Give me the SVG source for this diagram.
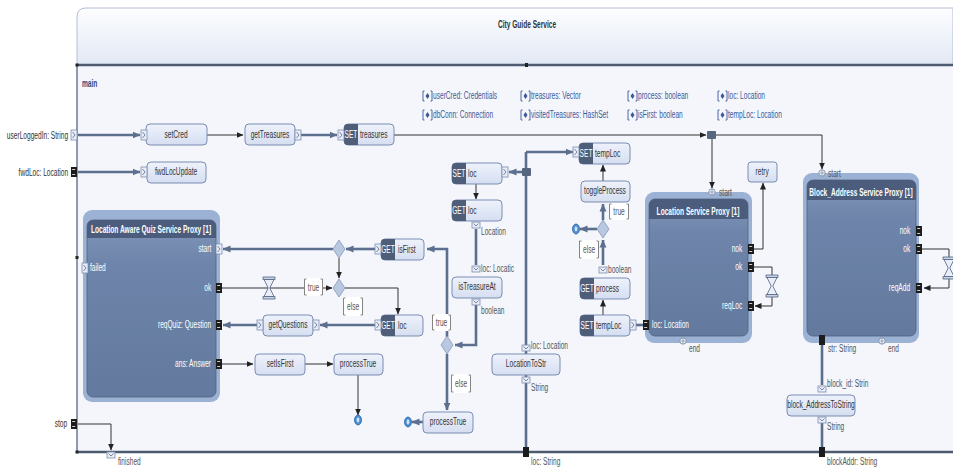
<svg xmlns="http://www.w3.org/2000/svg" width="953" height="469" viewBox="0 0 953 469">
<style>
.t{font-family:"Liberation Sans",Arial,sans-serif;font-size:10px;fill:#333;transform-box:fill-box;transform:scaleX(.66);transform-origin:left center}
.m{text-anchor:middle;transform-origin:center}
.e{text-anchor:end;transform-origin:right center}
.b{font-weight:bold}
.w{fill:#fff}
.g{fill:#555}
.v{fill:#3b5a9a}
.op{fill:url(#gOp);stroke:#7b8db3;stroke-width:1}
.vk{fill:#4e5d78}
.dl{fill:none;stroke:#5d6f8e;stroke-width:2.6}
.cl{fill:none;stroke:#333;stroke-width:1}
.gd{fill:#fff;stroke:none}
.br{fill:none;stroke:#777;stroke-width:.9}
</style>
<defs>
<linearGradient id="gHead" x1="0" y1="0" x2="0" y2="1"><stop offset="0" stop-color="#fcfdff"/><stop offset="1" stop-color="#e2e8f4"/></linearGradient>
<linearGradient id="gOp" x1="0" y1="0" x2="0" y2="1"><stop offset="0" stop-color="#eef2fb"/><stop offset="1" stop-color="#d5def1"/></linearGradient>
<linearGradient id="gBody" x1="0" y1="0" x2="0" y2="1"><stop offset="0" stop-color="#8196b9"/><stop offset=".25" stop-color="#6e84aa"/><stop offset="1" stop-color="#637a9e"/></linearGradient>
<marker id="aK" markerUnits="userSpaceOnUse" markerWidth="7" markerHeight="7" refX="6.5" refY="3.5" orient="auto"><path d="M0,0.5 L7,3.5 L0,6.5z" fill="#222"/></marker>
<marker id="aD" markerUnits="userSpaceOnUse" markerWidth="8" markerHeight="8" refX="7.5" refY="4" orient="auto"><path d="M0,0.5 L8,4 L0,7.5z" fill="#5d6f8e"/></marker>
<!-- light data port (horizontal) -->
<g id="pl"><rect x="-3" y="-5" width="6" height="10" fill="#e8edf7" stroke="#7d8db0" stroke-width=".8"/><path d="M-1.5,-3 L1,0 L-1.5,3" fill="none" stroke="#5b6c88" stroke-width=".8"/></g>
<!-- black port -->
<g id="pk"><rect x="-3" y="-5" width="6" height="10" fill="#1c1c1c"/><path d="M-1.8,-2.5 h3 M-1.8,2.5 h3" stroke="#fff" stroke-width=".8"/></g>
<!-- light port (vertical) -->
<g id="pv"><rect x="-4" y="-3" width="8" height="6" fill="#e8edf7" stroke="#7d8db0" stroke-width=".8"/><path d="M-2.5,-1.5 L0,1 L2.5,-1.5" fill="none" stroke="#5b6c88" stroke-width=".8"/></g>
<!-- start / end port -->
<g id="pc"><circle r="3.2" fill="#eef2f8" stroke="#7a8aa8" stroke-width=".9"/><path d="M0,-3 v6 M-2,0 h4" stroke="#7a8aa8" stroke-width=".7"/></g>
<!-- timer -->
<g id="tm"><path d="M-6,-11 h12 v2.5 h-12z M-6,8.5 h12 v2.5 h-12z" fill="#c9d3e6" stroke="#52627f" stroke-width=".8"/><path d="M-5,-8.5 L5,-8.5 L0.8,0 L5,8.5 L-5,8.5 L-0.8,0z" fill="#e9eef8" stroke="#52627f" stroke-width=".8"/></g>
<!-- final node -->
<g id="fin"><ellipse rx="3.5" ry="5" fill="#4c8fd2" stroke="#2b66a6" stroke-width=".8"/><ellipse rx="1.4" ry="2.4" fill="#cfe2f7"/></g>
<!-- decision -->
<g id="dia"><path d="M0,-9 L6,0 L0,9 L-6,0z" fill="#b9c8e1" stroke="#8797b8" stroke-width=".8"/></g>
<!-- variable icon -->
<g id="vi"><path d="M1.5,-5 h-1.5 v10 h1.5 M7.5,-5 h1.5 v10 h-1.5" stroke="#3b5a9a" fill="none" stroke-width=".9"/><path d="M4.5,-3 L6.5,0 L4.5,3 L2.5,0z" fill="#3b5a9a"/></g>
</defs>

<rect width="953" height="469" fill="#fff"/>

<!-- frame -->
<g id="frame">
<path d="M77,66 V17 Q77,8 86,8 H953 V66 Z" fill="url(#gHead)" stroke="#b4bfd2" stroke-width="1"/>
<rect x="77" y="65" width="876" height="387" fill="#f4f6fb"/>
<path d="M77,65 V452" stroke="#6b7a90" stroke-width="1.5"/>
<path d="M77,65 H953" stroke="#4d5b70" stroke-width="2.5"/>
<path d="M77,452 H953" stroke="#4d5b70" stroke-width="2.5"/>
<rect x="525" y="63" width="3" height="4" fill="#222"/>
<rect x="75.5" y="63.5" width="3" height="3" fill="#222"/>
<rect x="75.5" y="450.5" width="3" height="3" fill="#222"/>
<rect x="75.5" y="256" width="3" height="3" fill="#222"/>
<text class="t b m" x="527" y="28" style="fill:#333">City Guide Service</text>
<text class="t b" x="82" y="87" style="fill:#34497a">main</text>
</g>

<!-- variables -->
<g id="variables">
<use href="#vi" x="423" y="96"/><text class="t v" x="433" y="99.5">userCred: Credentials</text>
<use href="#vi" x="423" y="115"/><text class="t v" x="433" y="118.5">dbConn: Connection</text>
<use href="#vi" x="521" y="96"/><text class="t v" x="531" y="99.5">treasures: Vector</text>
<use href="#vi" x="521" y="115"/><text class="t v" x="531" y="118.5">visitedTreasures: HashSet</text>
<use href="#vi" x="628" y="96"/><text class="t v" x="638" y="99.5">process: boolean</text>
<use href="#vi" x="628" y="115"/><text class="t v" x="638" y="118.5">isFirst: boolean</text>
<use href="#vi" x="718" y="96"/><text class="t v" x="728" y="99.5">loc: Location</text>
<use href="#vi" x="718" y="115"/><text class="t v" x="728" y="118.5">tempLoc: Location</text>
</g>

<!-- connectors -->
<g id="connectors">
<!-- data flows -->
<path class="dl" d="M78,135 H140" marker-end="url(#aD)"/>
<path class="dl" d="M301,135 H337" marker-end="url(#aD)"/>
<path class="dl" d="M78,172 H140" marker-end="url(#aD)"/>
<path class="dl" d="M375,249 H346" marker-end="url(#aD)"/>
<path class="dl" d="M333,249 H223" marker-end="url(#aD)"/>
<path class="dl" d="M447,337 V249 H427" marker-end="url(#aD)"/>
<path class="dl" d="M375,325 H320" marker-end="url(#aD)"/>
<path class="dl" d="M257,325 H223" marker-end="url(#aD)"/>
<path class="dl" d="M526,152 V452"/>
<path class="dl" d="M526,152 H573" marker-end="url(#aD)"/>
<path class="dl" d="M523,172 H509" marker-end="url(#aD)"/>
<path class="dl" d="M476,229 V265"/>
<path class="dl" d="M476,305 V345 H455" marker-end="url(#aD)"/>
<path class="dl" d="M447,354 V410" marker-end="url(#aD)"/>
<path class="dl" d="M423,422 H412" marker-end="url(#aD)"/>
<path class="dl" d="M597,229 H580" marker-end="url(#aD)"/>
<path class="dl" d="M603,265 V240" marker-end="url(#aD)"/>
<path class="dl" d="M603,220 V204" marker-end="url(#aD)"/>
<path class="dl" d="M822,345 V385"/>
<path class="dl" d="M822,423 V449"/>
<path class="dl" d="M636,325 H643"/>
<!-- control flows -->
<path class="cl" d="M207,135 H243" marker-end="url(#aK)"/>
<path class="cl" d="M394,135 H706" marker-end="url(#aK)"/>
<path class="cl" d="M716,135 H822 V169" marker-end="url(#aK)"/>
<path class="cl" d="M712,139 V188" marker-end="url(#aK)"/>
<path class="cl" d="M754,249 H763 V183" marker-end="url(#aK)"/>
<path class="cl" d="M754,267 H772 V306 H755" marker-end="url(#aK)"/>
<path class="cl" d="M922,249 H949 V288 H924" marker-end="url(#aK)"/>
<path class="cl" d="M222,288 H332" marker-end="url(#aK)"/>
<path class="cl" d="M339,258 V278" marker-end="url(#aK)"/>
<path class="cl" d="M345,288 H398 V314" marker-end="url(#aK)"/>
<path class="cl" d="M222,364 H253" marker-end="url(#aK)"/>
<path class="cl" d="M305,364 H333" marker-end="url(#aK)"/>
<path class="cl" d="M358,375 V415" marker-end="url(#aK)"/>
<path class="cl" d="M476,184 V199" marker-end="url(#aK)"/>
<path class="cl" d="M603,181 V165" marker-end="url(#aK)"/>
<path class="cl" d="M603,315 V300" marker-end="url(#aK)"/>
<path class="cl" d="M78,424 H111 V450" marker-end="url(#aK)"/>
<rect x="707" y="131" width="9" height="8" rx="1" fill="#56667f"/>
<rect x="522" y="168" width="9" height="8" rx="1" fill="#56667f"/>
<use href="#tm" x="269" y="288"/>
<use href="#tm" x="772" y="286"/>
<use href="#tm" x="949" y="268"/>
<use href="#dia" x="339" y="249"/>
<use href="#dia" x="339" y="288"/>
<use href="#dia" x="447" y="345"/>
<use href="#dia" x="603" y="229"/>
<use href="#fin" x="358" y="420"/>
<use href="#fin" x="408" y="422"/>
<use href="#fin" x="576" y="229"/>
<!-- guards -->
<rect class="gd" x="304" y="278" width="19" height="18"/><path class="br" d="M306.5,279 h-2 v16 h2 M320.5,279 h2 v16 h-2"/><text class="t m g" x="313.5" y="291.5">true</text>
<rect class="gd" x="343" y="297" width="20" height="19"/><path class="br" d="M345.5,298 h-2 v17 h2 M360.5,298 h2 v17 h-2"/><text class="t m g" x="353" y="310.5">else</text>
<rect class="gd" x="432" y="314" width="19" height="17"/><path class="br" d="M434.5,315 h-2 v15 h2 M448.5,315 h2 v15 h-2"/><text class="t m g" x="441.5" y="326.5">true</text>
<rect class="gd" x="451" y="374" width="20" height="19"/><path class="br" d="M453.5,375 h-2 v17 h2 M468.5,375 h2 v17 h-2"/><text class="t m g" x="461" y="387.5">else</text>
<rect class="gd" x="609" y="203" width="20" height="17"/><path class="br" d="M611.5,204 h-2 v15 h2 M626.5,204 h2 v15 h-2"/><text class="t m g" x="619" y="215.5">true</text>
<rect class="gd" x="579" y="240" width="20" height="19"/><path class="br" d="M581.5,241 h-2 v17 h2 M596.5,241 h2 v17 h-2"/><text class="t m g" x="589" y="253.5">else</text>
</g>

<!-- service inputs / outputs -->
<g id="io">
<use href="#pl" x="74" y="135"/><text class="t e" x="68" y="139">userLoggedIn: String</text>
<use href="#pk" x="74" y="172"/><text class="t e" x="68" y="176">fwdLoc: Location</text>
<use href="#pk" x="74" y="424"/><text class="t e" x="67" y="427.5">stop</text>
<use href="#pv" x="111" y="455"/><text class="t g" x="118" y="465.5">finished</text>
<g transform="translate(526,452)"><rect x="-3" y="-5" width="6" height="10" fill="#1c1c1c"/></g><text class="t g" x="531" y="465.5">loc: String</text>
<g transform="translate(822,452)"><rect x="-3" y="-5" width="6" height="10" fill="#1c1c1c"/></g><text class="t g" x="827" y="465.5">blockAddr: String</text>
</g>

<!-- operations -->
<g id="setCred"><rect class="op" x="146" y="124" width="61" height="21" rx="4"/><use href="#pl" x="144" y="135"/><text class="t m" x="176" y="138.5">setCred</text></g>
<g id="getTreasures"><rect class="op" x="245" y="124" width="50" height="21" rx="4"/><use href="#pl" x="298" y="135"/><text class="t m" x="270" y="138.5">getTreasures</text></g>
<g id="fwdLocUpdate"><rect class="op" x="147" y="162" width="59" height="21" rx="4"/><use href="#pl" x="144" y="172"/><text class="t m" x="176" y="175.5">fwdLocUpdate</text></g>
<g id="getQuestions"><rect class="op" x="263" y="315" width="50" height="21" rx="4"/><use href="#pl" x="260" y="325"/><use href="#pl" x="316" y="325"/><text class="t m" x="288" y="328.5">getQuestions</text></g>
<g id="setIsFirst"><rect class="op" x="255" y="354" width="50" height="21" rx="4"/><text class="t m" x="280" y="367.5">setIsFirst</text></g>
<g id="processTrue1"><rect class="op" x="334" y="354" width="49" height="21" rx="4"/><text class="t m" x="358" y="367.5">processTrue</text></g>
<g id="processTrue2"><rect class="op" x="423" y="412" width="50" height="21" rx="4"/><text class="t m" x="448" y="425.5">processTrue</text></g>
<g id="isTreasureAt"><rect class="op" x="452" y="277" width="50" height="21" rx="4"/><use href="#pv" x="476" y="269"/><use href="#pv" x="476" y="302"/><text class="t m" x="477" y="290.5">isTreasureAt</text><text class="t g" x="481" y="272.5">loc: Locatic</text><text class="t g" x="481" y="314">boolean</text></g>
<g id="LocationToStr"><rect class="op" x="492" y="354" width="68" height="21" rx="4"/><use href="#pv" x="526" y="348"/><use href="#pv" x="526" y="380"/><text class="t m" x="526" y="367.5">LocationToStr</text><text class="t g" x="531" y="349.5">loc: Location</text><text class="t g" x="531" y="391">String</text></g>
<g id="toggleProcess"><rect class="op" x="581" y="181" width="49" height="21" rx="4"/><text class="t m" x="605" y="194.5">toggleProcess</text></g>
<g id="retry"><rect class="op" x="748" y="162" width="29" height="20" rx="3"/><text class="t m" x="762" y="175.5">retry</text></g>
<g id="blockAddressToString"><rect class="op" x="787" y="395" width="68" height="21" rx="4"/><use href="#pv" x="822" y="389"/><use href="#pv" x="822" y="420"/><text class="t m" x="821" y="408.5">block_AddressToString</text><text class="t g" x="827" y="387.5">block_id: Strin</text><text class="t g" x="827" y="430.5">String</text></g>

<!-- variable access -->
<g id="setTreasures"><rect class="op" x="344" y="124" width="50" height="21" rx="4"/><path class="vk" d="M348,124 h10 v21 h-10 a4,4 0 0 1 -4,-4 v-13 a4,4 0 0 1 4,-4z"/><use href="#pl" x="341" y="135"/><text class="t w m" x="351" y="138.5">SET</text><text class="t" x="360" y="138.5">treasures</text></g>
<g id="getIsFirst"><rect class="op" x="381" y="239" width="43" height="21" rx="4"/><path class="vk" d="M385,239 h10 v21 h-10 a4,4 0 0 1 -4,-4 v-13 a4,4 0 0 1 4,-4z"/><use href="#pl" x="378" y="249"/><text class="t w m" x="388" y="253">GET</text><text class="t" x="398" y="253">isFirst</text></g>
<g id="getLocQuiz"><rect class="op" x="381" y="315" width="42" height="21" rx="4"/><path class="vk" d="M385,315 h10 v21 h-10 a4,4 0 0 1 -4,-4 v-13 a4,4 0 0 1 4,-4z"/><use href="#pl" x="378" y="325"/><text class="t w m" x="388" y="329">GET</text><text class="t" x="398" y="329">loc</text></g>
<g id="setLoc"><rect class="op" x="452" y="163" width="50" height="21" rx="4"/><path class="vk" d="M456,163 h10 v21 h-10 a4,4 0 0 1 -4,-4 v-13 a4,4 0 0 1 4,-4z"/><use href="#pl" x="505" y="172"/><text class="t w m" x="459" y="177">SET</text><text class="t" x="468" y="177">loc</text></g>
<g id="getLoc"><rect class="op" x="452" y="200" width="50" height="21" rx="4"/><path class="vk" d="M456,200 h10 v21 h-10 a4,4 0 0 1 -4,-4 v-13 a4,4 0 0 1 4,-4z"/><use href="#pv" x="476" y="225"/><text class="t w m" x="459" y="214">GET</text><text class="t" x="468" y="214">loc</text><text class="t g" x="481" y="235">Location</text></g>
<g id="setTempLocTop"><rect class="op" x="579" y="143" width="51" height="21" rx="4"/><path class="vk" d="M583,143 h10 v21 h-10 a4,4 0 0 1 -4,-4 v-13 a4,4 0 0 1 4,-4z"/><use href="#pl" x="576" y="152"/><text class="t w m" x="586" y="157">SET</text><text class="t" x="595" y="157">tempLoc</text></g>
<g id="getProcess"><rect class="op" x="580" y="278" width="50" height="21" rx="4"/><path class="vk" d="M584,278 h10 v21 h-10 a4,4 0 0 1 -4,-4 v-13 a4,4 0 0 1 4,-4z"/><use href="#pv" x="603" y="270"/><text class="t w m" x="587" y="292">GET</text><text class="t" x="596" y="292">process</text><text class="t g" x="608" y="273.5">boolean</text></g>
<g id="setTempLoc"><rect class="op" x="580" y="315" width="50" height="21" rx="4"/><path class="vk" d="M584,315 h10 v21 h-10 a4,4 0 0 1 -4,-4 v-13 a4,4 0 0 1 4,-4z"/><use href="#pl" x="633" y="325"/><text class="t w m" x="587" y="329">SET</text><text class="t" x="596" y="329">tempLoc</text></g>

<!-- service proxies -->
<g id="quizProxy">
<rect x="83" y="210" width="137" height="192" rx="9" fill="#9cb2d4"/>
<rect x="87" y="220" width="129" height="177" rx="6" fill="url(#gBody)" stroke="#52637f" stroke-width=".8"/>
<path d="M87,226 a6,6 0 0 1 6,-6 h117 a6,6 0 0 1 6,6 v12 h-129z" fill="#4b5c7c"/>
<text class="t b w m" x="151" y="233">Location Aware Quiz Service Proxy [1]</text>
<use href="#pl" x="219" y="249"/><text class="t w e" x="211" y="252.5">start</text>
<use href="#pk" x="219" y="288"/><text class="t w e" x="211" y="291.5">ok</text>
<use href="#pk" x="219" y="325"/><text class="t w e" x="211" y="328.5">reqQuiz: Question</text>
<use href="#pk" x="219" y="364"/><text class="t w e" x="211" y="367.5">ans: Answer</text>
<use href="#pl" x="85" y="268"/><text class="t w" x="90" y="271.5">failed</text>
</g>
<g id="locationProxy">
<rect x="645" y="192" width="107" height="151" rx="9" fill="#9cb2d4"/>
<rect x="649" y="199" width="99" height="137" rx="6" fill="url(#gBody)" stroke="#52637f" stroke-width=".8"/>
<path d="M649,205 a6,6 0 0 1 6,-6 h87 a6,6 0 0 1 6,6 v14 h-99z" fill="#4b5c7c"/>
<text class="t b w m" x="698" y="215">Location Service Proxy [1]</text>
<use href="#pc" x="712" y="192"/><text class="t g" x="719" y="196">start</text>
<use href="#pk" x="751" y="249"/><text class="t w e" x="742" y="252.5">nok</text>
<use href="#pk" x="751" y="267"/><text class="t w e" x="742" y="270.5">ok</text>
<use href="#pk" x="751" y="306"/><text class="t w e" x="742" y="309.5">reqLoc</text>
<use href="#pk" x="646" y="325"/><text class="t w" x="652" y="328.5">loc: Location</text>
<use href="#pc" x="683" y="341"/><text class="t g" x="689" y="352.5">end</text>
</g>
<g id="blockAddressProxy">
<rect x="803" y="173" width="116" height="170" rx="9" fill="#9cb2d4"/>
<rect x="807" y="180" width="109" height="156" rx="6" fill="url(#gBody)" stroke="#52637f" stroke-width=".8"/>
<path d="M807,186 a6,6 0 0 1 6,-6 h97 a6,6 0 0 1 6,6 v14 h-109z" fill="#4b5c7c"/>
<text class="t b w m" x="861" y="196">Block_Address Service Proxy [1]</text>
<use href="#pc" x="822" y="173"/><text class="t g" x="828" y="177">start</text>
<use href="#pk" x="919" y="231"/><text class="t w e" x="910" y="234.5">nok</text>
<use href="#pk" x="919" y="249"/><text class="t w e" x="910" y="252.5">ok</text>
<use href="#pk" x="919" y="288"/><text class="t w e" x="910" y="291.5">reqAdd</text>
<g transform="translate(822,340)"><rect x="-3" y="-5" width="6" height="10" fill="#1c1c1c"/></g><text class="t g" x="828" y="352.5">str: String</text>
<use href="#pc" x="882" y="341"/><text class="t g" x="888" y="352.5">end</text>
</g>
</svg>
